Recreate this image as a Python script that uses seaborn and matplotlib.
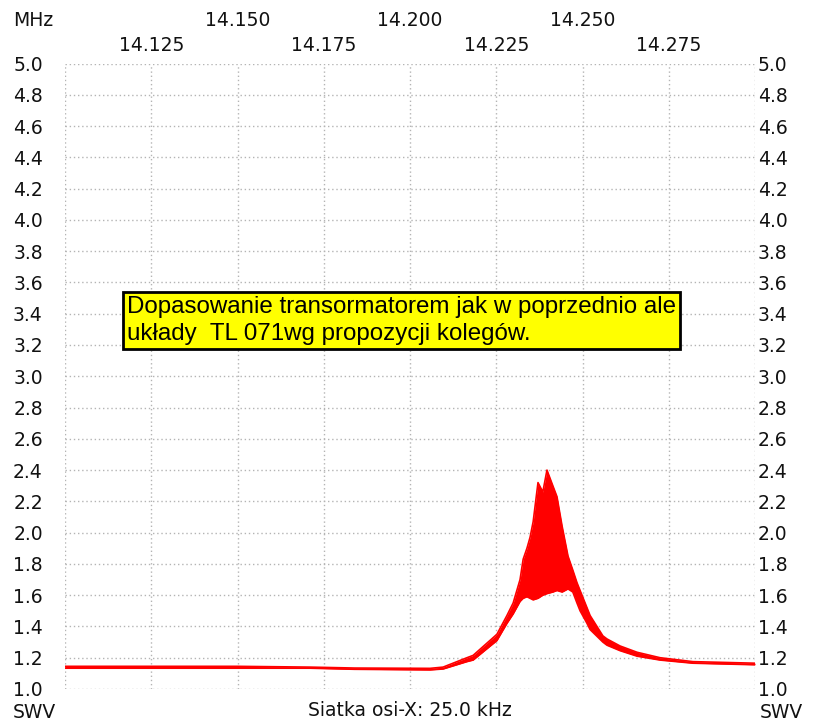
import numpy as np
import matplotlib
matplotlib.use("Agg")
import matplotlib.pyplot as plt
import seaborn as sns

# frequency points (MHz) and SWR band read from the sweep (lower / upper edge of the noisy trace)
freq_mhz = [14.100, 14.150, 14.171, 14.184, 14.2058, 14.2096, 14.2165, 14.2183,
            14.2252, 14.2281, 14.2299, 14.2319, 14.2328, 14.2339, 14.2348, 14.2357,
            14.2371, 14.2385, 14.2397, 14.2414, 14.2426, 14.2441, 14.2458, 14.2472,
            14.2484, 14.2493, 14.2513, 14.2522, 14.2559, 14.2571, 14.2609, 14.2658,
            14.2725, 14.2820, 14.300]
swr_low = [1.133, 1.133, 1.133, 1.126, 1.122, 1.128, 1.175, 1.185,
           1.31, 1.42, 1.48, 1.56, 1.58, 1.59, 1.58, 1.57,
           1.58, 1.60, 1.61, 1.62, 1.63, 1.62, 1.64, 1.62,
           1.55, 1.50, 1.42, 1.38, 1.30, 1.28, 1.245, 1.21,
           1.185, 1.165, 1.155]
swr_high = [1.145, 1.145, 1.140, 1.134, 1.132, 1.14, 1.20, 1.215,
            1.35, 1.47, 1.55, 1.70, 1.83, 1.90, 1.97, 2.07,
            2.32, 2.26, 2.40, 2.30, 2.23, 2.04, 1.85, 1.76,
            1.68, 1.63, 1.52, 1.47, 1.34, 1.32, 1.275, 1.235,
            1.20, 1.175, 1.165]

top_row = [14.150, 14.200, 14.250]
bottom_row = [14.125, 14.175, 14.225, 14.275]
y_ticks = np.round(np.arange(1.0, 5.01, 0.2), 1)

note = "Dopasowanie transormatorem jak w poprzednio ale\nukłady  TL 071wg propozycji kolegów."

sns.set_theme(style="white")
plt.rcParams['font.family'] = ['DejaVu Sans']

fs = 13.5
txt_col = "#111111"

fig = plt.figure(figsize=(8.13, 7.28), dpi=100)
ax = fig.add_axes([65 / 813, 39 / 728, 690 / 813, 625.5 / 728])

ax.fill_between(freq_mhz, swr_low, swr_high, color="#ff0000", lw=0, zorder=3)
sns.lineplot(x=freq_mhz, y=swr_low, color="#ff0000", lw=1.2, ax=ax, zorder=3)
sns.lineplot(x=freq_mhz, y=swr_high, color="#ff0000", lw=1.2, ax=ax, zorder=3)

ax.set_xlim(14.100, 14.300)
ax.set_ylim(1.0, 5.0)
for s in ax.spines.values():
    s.set_visible(False)

grid_kw = dict(color="#b4b4b4", linestyle=(0, (1, 2)), linewidth=1.0)
ax.set_xticks(np.arange(14.100, 14.3001, 0.025))
ax.set_yticks(y_ticks)
ax.grid(True, **grid_kw)
ax.set_axisbelow(True)
ax.tick_params(axis="x", bottom=False, labelbottom=False, length=0)
ax.tick_params(axis="y", length=0, pad=16, labelsize=fs, labelcolor=txt_col)
ax.set_yticklabels([f"{v:.1f}" for v in y_ticks])

# right-hand SWR scale
ax_r = ax.twinx()
ax_r.set_ylim(1.0, 5.0)
ax_r.set_yticks(y_ticks)
ax_r.set_yticklabels([f"{v:.1f}" for v in y_ticks])
ax_r.tick_params(axis="y", length=0, pad=2, labelsize=fs, labelcolor=txt_col)
for s in ax_r.spines.values():
    s.set_visible(False)
ax_r.grid(False)

# two staggered rows of frequency labels on top
sec1 = ax.secondary_xaxis("top")
sec1.set_xticks(top_row)
sec1.set_xticklabels([f"{v:.3f}" for v in top_row])
sec1.tick_params(length=0, pad=24, labelsize=fs, labelcolor=txt_col)
sec2 = ax.secondary_xaxis("top")
sec2.set_xticks(bottom_row)
sec2.set_xticklabels([f"{v:.3f}" for v in bottom_row])
sec2.tick_params(length=0, pad=6, labelsize=fs, labelcolor=txt_col)
for sec in (sec1, sec2):
    sec.spines["top"].set_visible(False)

ax.set_xlabel("Siatka osi-X: 25.0 kHz", fontsize=fs, labelpad=9, color=txt_col)

fig.text(13 / 813, 1 - 21 / 728, "MHz", fontsize=fs, va="center", ha="left", color=txt_col)
fig.text(13 / 813, 1 - 713 / 728, "SWV", fontsize=fs, va="center", ha="left", color=txt_col)
fig.text(760 / 813, 1 - 713 / 728, "SWV", fontsize=fs, va="center", ha="left", color=txt_col)

ax.text(0.09, 0.589, note, transform=ax.transAxes, fontsize=17.4, color="black",
        family=["Liberation Sans", "DejaVu Sans"], ha="left", va="center",
        linespacing=1.32, zorder=5,
        bbox=dict(boxstyle="square,pad=0.17", facecolor="#ffff00", edgecolor="black", linewidth=2))

fig.savefig("out.png", dpi=100)
